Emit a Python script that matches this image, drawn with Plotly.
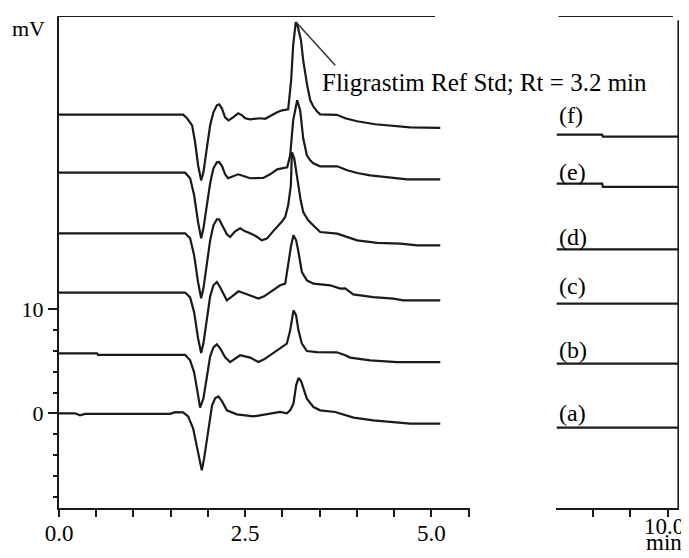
import plotly.graph_objects as go

# ---------------- data (time in min, signal in mV) ----------------
t_f = [0, 1.667, 1.720, 1.788, 1.828, 1.868, 1.909, 1.940, 1.985, 2.030, 2.074, 2.120, 2.151, 2.187,
       2.231, 2.276, 2.339, 2.406, 2.460, 2.500, 2.567, 2.702, 2.769, 2.849, 2.930, 2.997, 3.078, 3.118,
       3.145, 3.180, 3.199, 3.250, 3.280, 3.333, 3.374, 3.414, 3.464, 3.508, 3.733, 3.844, 4.005, 4.247,
       4.449, 4.718, 5.121]
v_f = [28.72, 28.72, 28.37, 27.69, 26.06, 23.85, 22.40, 23.17, 25.48, 27.69, 28.94, 29.62, 29.71, 29.33,
       28.46, 28.17, 28.46, 28.85, 28.65, 28.37, 28.27, 28.37, 28.32, 28.65, 28.94, 29.13, 29.23, 32.02,
       35.38, 37.60, 37.40, 35.87, 33.94, 31.54, 30.10, 29.52, 29.04, 28.75, 28.70, 28.37, 28.08, 27.79,
       27.69, 27.50, 27.45]

t_e = [0, 1.694, 1.761, 1.815, 1.868, 1.909, 1.940, 1.985, 2.030, 2.074, 2.120, 2.151, 2.191, 2.231,
       2.271, 2.339, 2.406, 2.487, 2.567, 2.742, 2.836, 2.930, 3.065, 3.105, 3.145, 3.199, 3.239, 3.280,
       3.329, 3.374, 3.414, 3.508, 3.737, 3.871, 4.005, 4.180, 4.409, 4.677, 5.121]
v_e = [23.14, 23.14, 22.60, 20.96, 18.37, 16.83, 17.79, 20.00, 22.12, 23.56, 24.13, 24.16, 23.75, 22.98,
       22.60, 22.79, 22.98, 22.79, 22.60, 22.63, 22.98, 23.46, 23.65, 24.81, 28.17, 30.10, 29.13, 26.44,
       24.81, 24.33, 24.04, 23.75, 23.75, 23.37, 23.11, 22.88, 22.69, 22.50, 22.50]

t_d = [0, 1.694, 1.761, 1.815, 1.868, 1.909, 1.940, 1.985, 2.030, 2.074, 2.120, 2.151, 2.204, 2.254,
       2.298, 2.366, 2.433, 2.500, 2.567, 2.648, 2.724, 2.792, 2.863, 2.930, 2.997, 3.038, 3.078, 3.114,
       3.128, 3.159, 3.212, 3.246, 3.280, 3.347, 3.414, 3.508, 3.737, 3.871, 4.005, 4.274, 4.583, 4.812,
       5.121]
v_d = [17.31, 17.31, 16.83, 15.19, 12.60, 11.06, 12.02, 14.52, 16.63, 18.08, 18.65, 18.65, 17.98, 17.21,
       16.95, 17.50, 17.79, 17.50, 17.31, 17.02, 16.63, 16.80, 17.40, 17.91, 18.46, 18.88, 20.00, 21.92,
       25.10, 24.52, 21.92, 20.48, 19.36, 18.56, 18.08, 17.43, 17.28, 16.92, 16.63, 16.38, 16.32, 16.15,
       16.15]

t_c = [0, 1.694, 1.761, 1.815, 1.868, 1.909, 1.940, 1.985, 2.030, 2.074, 2.120, 2.164, 2.254, 2.325,
       2.410, 2.487, 2.567, 2.679, 2.755, 2.836, 2.970, 3.038, 3.082, 3.118, 3.149, 3.185, 3.216, 3.262,
       3.329, 3.418, 3.642, 3.777, 3.844, 3.952, 4.220, 4.489, 4.624, 5.121]
v_c = [11.61, 11.61, 11.15, 9.71, 7.21, 5.80, 6.73, 9.13, 11.25, 12.31, 12.63, 12.12, 10.87, 11.25,
       11.73, 11.54, 11.35, 11.03, 11.25, 11.66, 12.31, 12.47, 14.55, 16.15, 17.12, 16.63, 15.51, 13.59,
       12.79, 12.47, 12.31, 11.99, 12.02, 11.44, 11.18, 11.03, 10.87, 10.87]

t_b = [0, 0.511, 0.524, 1.694, 1.761, 1.815, 1.868, 1.895, 1.940, 1.985, 2.030, 2.074, 2.120, 2.164,
       2.231, 2.298, 2.366, 2.433, 2.567, 2.679, 2.755, 2.836, 2.970, 3.060, 3.105, 3.149, 3.185, 3.216,
       3.262, 3.329, 3.464, 3.733, 3.844, 3.911, 4.180, 4.539, 5.121]
v_b = [5.77, 5.77, 5.63, 5.63, 5.10, 3.94, 1.73, 0.55, 1.44, 3.65, 5.48, 6.35, 6.63, 6.25,
       5.38, 4.93, 5.29, 5.58, 5.36, 4.93, 5.19, 5.58, 6.22, 6.70, 7.98, 9.90, 9.42, 7.98,
       6.70, 5.99, 5.89, 5.87, 5.58, 5.36, 5.10, 4.93, 4.93]

t_a = [0, 0.215, 0.282, 0.349, 1.492, 1.559, 1.667, 1.734, 1.801, 1.855, 1.918, 1.949, 2.003, 2.056,
       2.097, 2.141, 2.191, 2.254, 2.388, 2.612, 2.836, 2.970, 3.060, 3.105, 3.149, 3.185, 3.216, 3.253,
       3.284, 3.329, 3.418, 3.508, 3.710, 3.844, 3.956, 4.220, 4.489, 4.718, 5.121]
v_a = [0.00, 0.00, -0.19, -0.05, -0.05, 0.12, 0.10, -0.29, -1.44, -3.27, -5.48, -4.33, -1.63, 0.77,
       1.44, 1.63, 1.15, 0.29, -0.10, -0.29, -0.03, 0.13, 0.00, 0.29, 0.93, 2.69, 3.39, 3.08,
       2.38, 1.41, 0.61, 0.29, 0.13, -0.19, -0.41, -0.67, -0.84, -0.99, -0.99]

# late part of the run (right panel, after the axis break)
tail_t2 = [8.51, 9.12, 9.13, 10.14]
tail_f = [26.80, 26.80, 26.60, 26.60]
tail_e = [22.09, 22.09, 21.78, 21.78]
tail_t = [8.51, 10.14]
tail_d = [15.77, 15.77]
tail_c = [10.55, 10.55]
tail_b = [4.78, 4.78]
tail_a = [-1.38, -1.38]

labels = ["(f)", "(e)", "(d)", "(c)", "(b)", "(a)"]
label_y = [28.65, 23.17, 16.92, 12.21, 6.06, 0.0]
x_ticks_left = [0, 2.5, 5.0]
x_ticktext_left = ["0.0", "2.5", "5.0"]
x_ticks_right = [9.0, 9.5, 10.0]
y_ticks = [0, 10]
y_minor = [-8, -6, -4, -2, 2, 4, 6, 8]
annot_text = "Fligrastim Ref Std; Rt = 3.2 min"
peak_rt, peak_mv = 3.185, 37.6

# ---------------- figure ----------------
FONT = "Liberation Serif"
LC = "#1a1a1a"
fig = go.Figure()

left = [(t_f, v_f), (t_e, v_e), (t_d, v_d), (t_c, v_c), (t_b, v_b), (t_a, v_a)]
for tx, vy in left:
    fig.add_trace(go.Scatter(x=tx, y=vy, mode="lines", line=dict(color=LC, width=2.2),
                             xaxis="x", yaxis="y", showlegend=False, hoverinfo="skip"))

right = [(tail_t2, tail_f), (tail_t2, tail_e), (tail_t, tail_d), (tail_t, tail_c),
         (tail_t, tail_b), (tail_t, tail_a)]
for tx, vy in right:
    fig.add_trace(go.Scatter(x=tx, y=vy, mode="lines", line=dict(color=LC, width=2.2),
                             xaxis="x2", yaxis="y", showlegend=False, hoverinfo="skip"))

Y0, Y1 = -9.1, 38.2
axis_common = dict(showline=True, linecolor=LC, linewidth=2, showgrid=False, zeroline=False,
                   ticks="outside", tickcolor=LC, tickwidth=2, ticklen=7, automargin=False,
                   tickfont=dict(family=FONT, size=23, color="black"))

# page body adds an 8px offset, so the figure is 681x550 placed at (8, 8)
fig.update_layout(
    width=681, height=550,
    margin=dict(l=51, r=10, t=8, b=50, autoexpand=False),
    paper_bgcolor="white", plot_bgcolor="white",
    xaxis=dict(domain=[0, 0.6629], range=[0, 5.52], tickmode="array",
               tickvals=x_ticks_left, ticktext=x_ticktext_left, ticklabelstandoff=-4,
               minor=dict(dtick=0.5, tick0=0, ticks="outside", ticklen=7, tickcolor=LC, tickwidth=2),
               anchor="y", **axis_common),
    xaxis2=dict(domain=[0.8016, 1], range=[8.5, 10.153], tickmode="array",
                tickvals=x_ticks_right, showticklabels=False, anchor="y", **axis_common),
    yaxis=dict(range=[Y0, Y1], showline=True, linecolor=LC, linewidth=2, showgrid=False,
               zeroline=False, ticks="outside", tickcolor=LC, tickwidth=2, ticklen=9,
               automargin=False,
               tickmode="array", tickvals=y_ticks, ticktext=[str(v) for v in y_ticks],
               minor=dict(tickmode="array", tickvals=y_minor, ticks="outside", ticklen=4,
                          tickcolor=LC, tickwidth=2),
               tickfont=dict(family=FONT, size=22, color="black")),
)

# frame lines (top of both panels, right edge)
fig.add_shape(type="line", xref="x", yref="y", x0=0, x1=5.05, y0=Y1, y1=Y1,
              line=dict(color=LC, width=2))
fig.add_shape(type="line", xref="x2", yref="y", x0=8.535, x1=10.07, y0=Y1, y1=Y1,
              line=dict(color=LC, width=2))
fig.add_shape(type="line", xref="x2", yref="y", x0=10.145, x1=10.145, y0=Y0, y1=37.8,
              line=dict(color=LC, width=2))

# pointer to the reference-standard peak
fig.add_shape(type="line", xref="x", yref="y", x0=peak_rt, y0=peak_mv, x1=3.71, y1=33.46,
              line=dict(color="#333333", width=1.5))
fig.add_annotation(x=3.51, y=31.83, xref="x", yref="y", text=annot_text, showarrow=False,
                   xanchor="left", yanchor="middle", font=dict(family=FONT, size=25, color="black"))

for lab, ly in zip(labels, label_y):
    fig.add_annotation(x=8.52, y=ly, xref="x2", yref="y", text=lab, showarrow=False,
                       xanchor="left", yanchor="middle", font=dict(family=FONT, size=24, color="black"))

fig.add_annotation(x=-0.05, y=0.9756, xref="paper", yref="paper", text="mV", showarrow=False,
                   xanchor="center", yanchor="middle", font=dict(family=FONT, size=22, color="black"))
# last tick label of the right panel with the time unit underneath
fig.add_annotation(x=9.95, y=-0.038, xref="x2", yref="paper", text="10.0", showarrow=False,
                   xanchor="center", yanchor="middle", font=dict(family=FONT, size=23, color="black"))
fig.add_annotation(x=9.95, y=-0.071, xref="x2", yref="paper", text="min", showarrow=False,
                   xanchor="center", yanchor="middle", font=dict(family=FONT, size=23, color="black"))

fig.write_html("out.html")
